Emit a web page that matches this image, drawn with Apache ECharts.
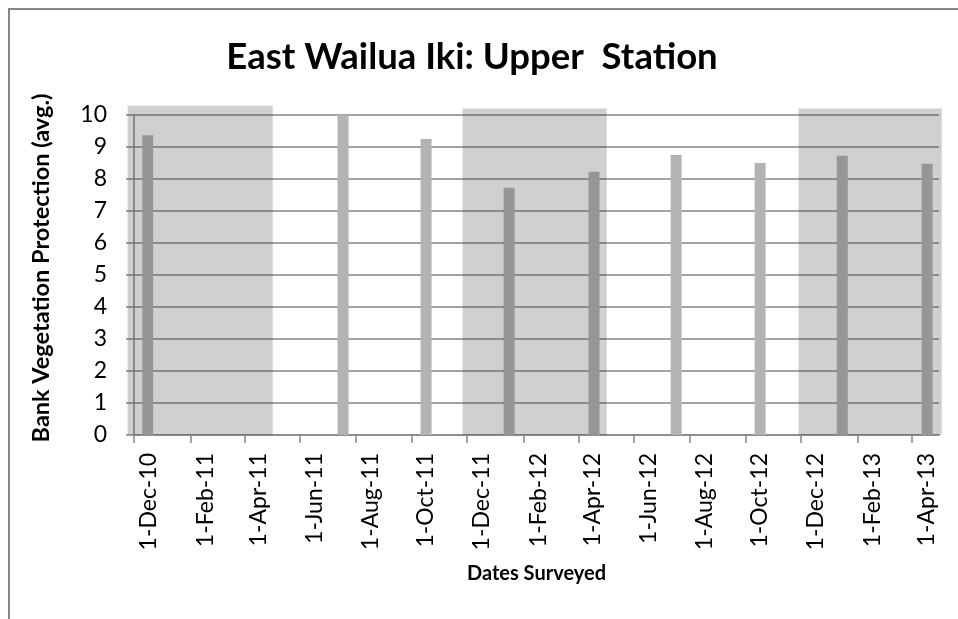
<!DOCTYPE html>
<html><head><meta charset="utf-8">
<script src="https://cdn.jsdelivr.net/npm/echarts@6/dist/echarts.min.js"></script>
<style>html,body{margin:0;padding:0;background:#fff}#c{width:958px;height:619px}</style>
</head><body><div id="c"></div>
<script>
// ---- data ----
const chartTitle = 'East Wailua Iki: Upper  Station';
const yAxisTitle = 'Bank Vegetation Protection (avg.)';
const xAxisTitle = 'Dates Surveyed';
const surveyDates = ['2010-12-16','2011-07-18','2011-10-17','2012-01-16','2012-04-18','2012-07-17','2012-10-17','2013-01-15','2013-04-18'];
const protectionAvg = [9.37, 10.0, 9.25, 7.73, 8.23, 8.75, 8.5, 8.73, 8.48];
const tickDates = ['2010-12-01','2011-02-01','2011-04-01','2011-06-01','2011-08-01','2011-10-01','2011-12-01','2012-02-01','2012-04-01','2012-06-01','2012-08-01','2012-10-01','2012-12-01','2013-02-01','2013-04-01'];
const monthNames = ['Jan','Feb','Mar','Apr','May','Jun','Jul','Aug','Sep','Oct','Nov','Dec'];
const yMin = 0, yMax = 10, yStep = 1;
const axisMinDate = '2010-12-01', axisMaxDate = '2013-05-01';
// wet-season shading (start, end, top value)
const seasonStarts = ['2010-11-24','2011-11-26','2012-11-28'];
const seasonEnds = ['2011-05-02','2012-05-02','2013-05-04'];
const seasonTops = [10.29, 10.2, 10.2];

function toTs(s){ const p = s.split('-').map(Number); return new Date(p[0], p[1]-1, p[2]).getTime(); }
function fmtDate(v){ const d = new Date(v); return d.getDate() + '-' + monthNames[d.getMonth()] + '-' + String(d.getFullYear()).slice(2); }

const axisColor = '#868686';
const FONT = 'Lato';
const chart = echarts.init(document.getElementById('c'), null, {renderer:'canvas'});
chart.setOption({
  animation: false,
  backgroundColor: '#ffffff',
  graphic: [
    {type:'rect', shape:{x:9, y:9, width:1200, height:1200}, style:{fill:'none', stroke:axisColor, lineWidth:2}, z:-1},
    {type:'text', x:472, y:57, style:{text:chartTitle, fontFamily:FONT, fontWeight:'bold', fontSize:36.5, fill:'#000', textAlign:'center', textVerticalAlign:'middle'}}
  ],
  grid: {left:134, right:19, top:115, bottom:184, outerBoundsMode:'none', containLabel:false},
  xAxis: {
    type:'value', min: toTs(axisMinDate), max: toTs(axisMaxDate), scale:true,
    name: xAxisTitle, nameLocation:'middle', nameGap:129, nameMoveOverlap:false,
    nameTextStyle:{fontFamily:FONT, fontWeight:'bold', fontSize:20, color:'#000'},
    axisLine:{show:true, lineStyle:{color:axisColor, width:1.5}},
    axisTick:{show:true, inside:false, length:8, lineStyle:{color:axisColor, width:1.5}, customValues: tickDates.map(toTs)},
    axisLabel:{show:true, rotate:90, margin:18, fontFamily:FONT, fontSize:23, color:'#000', verticalAlign:'top', padding:[3,0,0,0],
      customValues: tickDates.map(toTs), formatter: fmtDate, hideOverlap:false, showMinLabel:true, showMaxLabel:true},
    splitLine:{show:false}, minorTick:{show:false}
  },
  yAxis: {
    type:'value', min:yMin, max:yMax, interval:yStep,
    name: yAxisTitle, nameLocation:'middle', nameGap:81, nameRotate:90, nameMoveOverlap:false,
    nameTextStyle:{fontFamily:FONT, fontWeight:'bold', fontSize:23.5, color:'#000', padding:[0,0,0,14]},
    axisLine:{show:true, lineStyle:{color:axisColor, width:1.5}},
    axisTick:{show:true, inside:false, length:8, lineStyle:{color:axisColor, width:1.5}},
    axisLabel:{fontFamily:FONT, fontSize:23, color:'#000', margin:27},
    splitLine:{show:true, lineStyle:{color:axisColor, width:1.5}}
  },
  series: [
    {type:'bar', barWidth:11, z:2, itemStyle:{color:'#b3b3b3'},
     data: surveyDates.map((d,i)=>[toTs(d), protectionAvg[i]])},
    {type:'custom', z:5, silent:true, clip:false,
     encode:{x:[0,1], y:2},
     data: seasonStarts.map((s,i)=>[toTs(s), toTs(seasonEnds[i]), seasonTops[i]]),
     renderItem: function(params, api){
       const p0 = api.coord([api.value(0), api.value(2)]);
       const p1 = api.coord([api.value(1), 0]);
       return {type:'rect', shape:{x:p0[0], y:p0[1], width:p1[0]-p0[0], height:p1[1]-p0[1]},
               style:{fill:'rgba(54,54,54,0.234)'}};
     }}
  ]
});
</script></body></html>
